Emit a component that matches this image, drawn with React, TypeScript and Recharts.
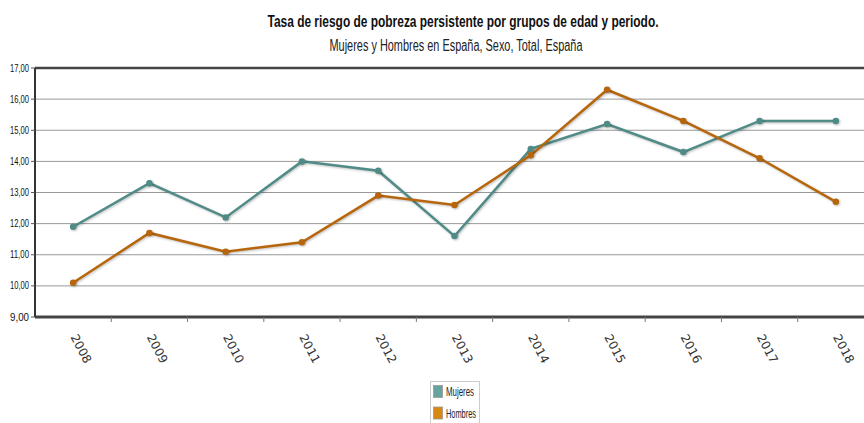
import { LineChart, Line, XAxis, YAxis, CartesianGrid, ReferenceLine } from "recharts"

const years = ["2008", "2009", "2010", "2011", "2012", "2013", "2014", "2015", "2016", "2017", "2018"]
const mujeres = [11.9, 13.3, 12.2, 14.0, 13.7, 11.6, 14.4, 15.2, 14.3, 15.3, 15.3]
const hombres = [10.1, 11.7, 11.1, 11.4, 12.9, 12.6, 14.2, 16.3, 15.3, 14.1, 12.7]
const yTicks = [9, 10, 11, 12, 13, 14, 15, 16, 17]

const series = [
  { key: "mujeres", name: "Mujeres", color: "#4f8b87", swatch: "#66a39e" },
  { key: "hombres", name: "Hombres", color: "#b8660c", swatch: "#d8870f" },
]

const title = "Tasa de riesgo de pobreza persistente por grupos de edad y periodo."
const subtitle = "Mujeres y Hombres en España, Sexo, Total, España"

const sans = "'Liberation Sans', Arial, sans-serif"

const data = years.map((y, i) => ({ idx: i, year: y, mujeres: mujeres[i], hombres: hombres[i] }))

// label ticks at integers, separator ticks at half steps
const xTicks: number[] = []
for (let i = 0; i < years.length; i++) {
  xTicks.push(i)
  if (i < years.length - 1) xTicks.push(i + 0.5)
}

const fmt = (v: number) => v.toFixed(2).replace(".", ",")

function XTick(props: any) {
  const { x, y, payload } = props
  const v = payload.value as number
  if (!Number.isInteger(v)) {
    return <line x1={x} y1={y} x2={x} y2={y + 5} stroke="#777" strokeWidth={1} />
  }
  const lx = x - 3
  const ly = y + 20
  return (
    <text
      x={lx}
      y={ly}
      transform={`rotate(62, ${lx}, ${ly})`}
      fontSize={12}
      fontFamily="'DejaVu Sans', sans-serif"
      fill="#333"
      textAnchor="start"
      textLength={31}
      lengthAdjust="spacingAndGlyphs"
    >
      {years[v]}
    </text>
  )
}

function YTick(props: any) {
  const { x, y, payload } = props
  return (
    <text
      x={x}
      y={y + 3.5}
      fontSize={11}
      fontFamily={sans}
      fill="#111"
      textAnchor="end"
      textLength={19}
      lengthAdjust="spacingAndGlyphs"
    >
      {fmt(payload.value)}
    </text>
  )
}

export default function App() {
  return (
    <div
      style={{
        position: "absolute",
        left: 0,
        top: 0,
        width: 864,
        height: 423,
        overflow: "hidden",
        background: "#fff",
      }}
    >
      <div style={{ position: "absolute", left: 0, top: 0 }}>
        <LineChart width={880} height={423} data={data} margin={{ top: 68, right: 6, bottom: 0, left: 0 }}>
          <CartesianGrid horizontal vertical={false} stroke="#999" strokeWidth={1} />
          <XAxis
            dataKey="idx"
            type="number"
            domain={[-0.5, years.length - 0.5]}
            ticks={xTicks}
            interval={0}
            tickLine={false}
            tickSize={0}
            tickMargin={0}
            tick={<XTick />}
            axisLine={{ stroke: "#444", strokeWidth: 3 }}
            height={106}
          />
          <YAxis
            domain={[9, 17]}
            ticks={yTicks}
            interval={0}
            width={35}
            tick={<YTick />}
            tickLine={{ stroke: "#555" }}
            tickSize={4}
            tickMargin={2}
            axisLine={{ stroke: "#333", strokeWidth: 2 }}
          />
          <ReferenceLine y={17} stroke="#444" strokeWidth={2.5} />
          {series.map((s) => (
            <Line
              key={s.key}
              type="linear"
              dataKey={s.key}
              name={s.name}
              stroke={s.color}
              strokeWidth={2.5}
              dot={{ r: 2, fill: s.color, stroke: s.color }}
              activeDot={false}
              isAnimationActive={false}
              style={{ filter: "drop-shadow(1px 1px 1px rgba(0,0,0,0.25))" }}
            />
          ))}
        </LineChart>
      </div>
      <svg width={864} height={423} style={{ position: "absolute", left: 0, top: 0, pointerEvents: "none" }}>
        <text
          x={463}
          y={27}
          textAnchor="middle"
          fontFamily={sans}
          fontWeight="bold"
          fontSize={17}
          fill="#111"
          textLength={391}
          lengthAdjust="spacingAndGlyphs"
        >
          {title}
        </text>
        <text
          x={456}
          y={51}
          textAnchor="middle"
          fontFamily={sans}
          fontSize={16}
          fill="#222"
          textLength={253}
          lengthAdjust="spacingAndGlyphs"
        >
          {subtitle}
        </text>
        <rect x={430.5} y={381.5} width={49} height={45} fill="#fff" stroke="#ccc" />
        {series.map((s, i) => (
          <g key={s.key}>
            <rect x={433.5} y={385.5 + i * 21.5} width={9} height={12} fill={s.swatch} stroke="#999" strokeWidth={0.8} />
            <text
              x={446}
              y={396 + i * 21.5}
              fontFamily={sans}
              fontSize={12}
              fill="#222"
              textLength={i === 0 ? 28 : 30}
              lengthAdjust="spacingAndGlyphs"
            >
              {s.name}
            </text>
          </g>
        ))}
      </svg>
    </div>
  )
}
